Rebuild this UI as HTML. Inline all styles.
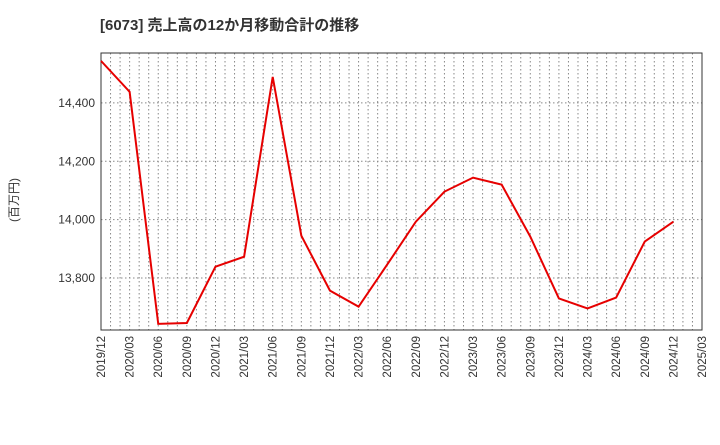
<!DOCTYPE html>
<html><head><meta charset="utf-8"><style>
body{margin:0;background:#fff;}
svg text{font-family:"Liberation Sans","Noto Sans CJK JP",sans-serif;}
</style></head><body>
<svg id="c" width="720" height="440" xmlns="http://www.w3.org/2000/svg">
<text x="100" y="30" font-size="15" font-weight="bold" fill="#333">[6073]  売上高の12か月移動合計の推移</text>
<text transform="translate(18,200) rotate(-90)" font-size="12" fill="#333" text-anchor="middle">(百万円)</text>
<g id="grid"></g><g id="axes"></g><g id="series"></g>
</svg>
<script>
const categories=["2019/12","2020/03","2020/06","2020/09","2020/12","2021/03","2021/06","2021/09","2021/12","2022/03","2022/06","2022/09","2022/12","2023/03","2023/06","2023/09","2023/12","2024/03","2024/06","2024/09","2024/12","2025/03"];
const values=[14544,14438,13643,13646,13839,13873,14489,13945,13757,13702,13846,13993,14096,14144,14120,13942,13730,13696,13733,13925,13993];
const yTicks=[13800,14000,14200,14400];
const yTickLabels=["13,800","14,000","14,200","14,400"];
const L=101,R=702,T=53,B=330,yMin=13622,yMax=14571;
const ns="http://www.w3.org/2000/svg";
function x(i){return L+(R-L)*i/(categories.length-1);}
function y(v){return B-(v-yMin)/(yMax-yMin)*(B-T);}
function mk(t,a,p){const e=document.createElementNS(ns,t);for(const k in a)e.setAttribute(k,a[k]);p.appendChild(e);return e;}
const g=document.getElementById('grid'),ax=document.getElementById('axes'),s=document.getElementById('series');
for(let m=1;m<(categories.length-1)*3;m++){const xx=L+(R-L)*m/((categories.length-1)*3);
const l=mk('line',{x1:xx,x2:xx,y1:T,y2:B,stroke:'#888','stroke-dasharray':'1.5,2.5','stroke-width':1},g);

}
yTicks.forEach((v,i)=>{const l=mk('line',{x1:L,x2:R,y1:y(v),y2:y(v),stroke:'#888','stroke-dasharray':'1.5,2.5'},g);


const t=mk('text',{x:L-6,y:y(v)+4,'font-size':12,'text-anchor':'end',fill:'#333'},ax);t.textContent=yTickLabels[i];

});
const fr=mk('rect',{x:L,y:T,width:R-L,height:B-T,fill:'none',stroke:'#333','stroke-width':1},ax);


categories.forEach((c,i)=>{const t=mk('text',{transform:`translate(${x(i)+4},${B+6}) rotate(-90)`,'font-size':11.5,'text-anchor':'end',fill:'#333'},ax);t.textContent=c;

});
const p=mk('polyline',{points:values.map((v,i)=>x(i)+','+y(v)).join(' '),fill:'none',stroke:'#e60000','stroke-width':2},s);


</script>
</body></html>
